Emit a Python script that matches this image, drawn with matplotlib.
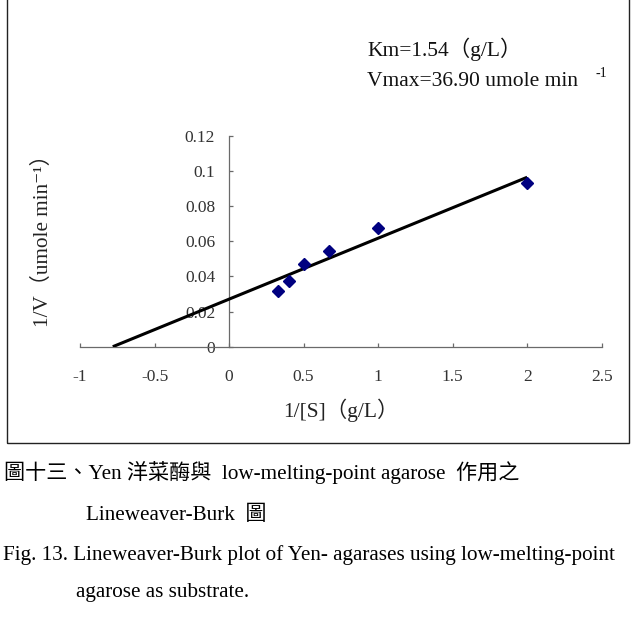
import matplotlib
matplotlib.use("Agg")
import matplotlib.pyplot as plt
from matplotlib.patches import Rectangle

# data
inv_s = [0.33, 0.40, 0.50, 0.67, 1.00, 2.00]
inv_v = [0.0317, 0.0376, 0.0471, 0.0547, 0.0676, 0.0931]
fit_x = [-0.78, 2.0]
fit_y = [0.0, 0.0965]

xticks = [-1, -0.5, 0, 0.5, 1, 1.5, 2, 2.5]
xtick_labels = ["-1", "-0.5", "0", "0.5", "1", "1.5", "2", "2.5"]
yticks = [0, 0.02, 0.04, 0.06, 0.08, 0.1, 0.12]
ytick_labels = ["0", "0.02", "0.04", "0.06", "0.08", "0.1", "0.12"]

caption = [
    "圖十三、Yen 洋菜酶與  low-melting-point agarose  作用之",
    "Lineweaver-Burk  圖",
    "Fig. 13. Lineweaver-Burk plot of Yen- agarases using low-melting-point",
    "agarose as substrate.",
]

W, H = 636, 618
SERIF = ["Liberation Serif", "DejaVu Serif", "Noto Sans CJK TC"]


def fx(x):
    return x / W


def fy(y):
    return 1 - y / H


fig = plt.figure(figsize=(W / 100, H / 100), dpi=100)
fig.patch.set_facecolor("white")

# frame around the chart (top edge runs off the page)
fig.add_artist(Rectangle((fx(7), fy(442.7)), fx(628.7 - 7), 442.7 / H + 0.05,
                         transform=fig.transFigure, fill=False, lw=1.0,
                         ec="#222222", clip_on=False))

ax = fig.add_axes([fx(80), fy(346.7), fx(521.7), 210.7 / H])
ax.set_xlim(-1, 2.5)
ax.set_ylim(0, 0.12)
ax.patch.set_alpha(0)

for s in ["top", "right"]:
    ax.spines[s].set_visible(False)
ax.spines["left"].set_position(("data", 0))
for s in ["left", "bottom"]:
    ax.spines[s].set_color("#6a6a6a")
    ax.spines[s].set_linewidth(0.9)

ax.set_xticks(xticks)
ax.set_xticklabels(xtick_labels, family=SERIF, fontsize=12.5, color="#333333")
ax.set_yticks(yticks)
ax.set_yticklabels(ytick_labels, family=SERIF, fontsize=12.5, color="#333333")
ax.tick_params(direction="in", length=3, width=0.9, color="#6a6a6a")
ax.tick_params(axis="x", pad=16)
ax.tick_params(axis="y", pad=10)

ax.plot(fit_x, fit_y, color="black", lw=2.2, solid_capstyle="butt", zorder=3)
ax.plot(inv_s, inv_v, linestyle="none", marker="D", markersize=6,
        color="#000080", zorder=4)

# axis titles
fig.text(fx(43), fy(236), "1/V（umole min⁻¹）", rotation=90,
         ha="center", va="center", family=SERIF, fontsize=15.2, color="#222222")
fig.text(fx(340.5), fy(410), "1/[S]（g/L）", ha="center", va="center",
         family=SERIF, fontsize=15.5, color="#222222")

# kinetic constants
fig.text(fx(367), fy(49.3), "Km=1.54（g/L）", ha="left", va="center",
         family=SERIF, fontsize=15.5, color="#111111")
fig.text(fx(367), fy(81.7), "Vmax=36.90 umole min", ha="left", va="center",
         family=SERIF, fontsize=15.5, color="#111111")
fig.text(fx(596), fy(73.3), "-1", ha="left", va="center",
         family=SERIF, fontsize=10, color="#111111")

# caption under the frame
cap_pos = [(4, 473), (86, 515), (3, 555), (76, 592)]
for (x, y), line in zip(cap_pos, caption):
    fig.text(fx(x), fy(y), line, ha="left", va="center",
             family=SERIF, fontsize=15.2, color="black")

fig.savefig("out.png", dpi=100)
